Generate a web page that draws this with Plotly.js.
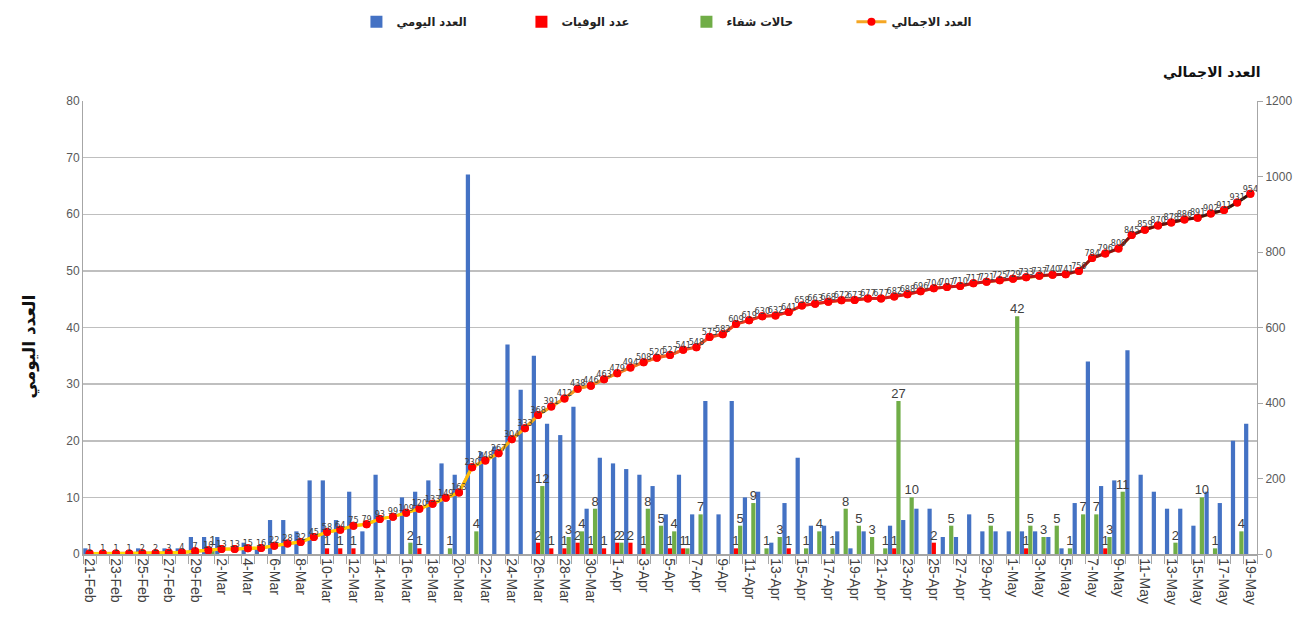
<!DOCTYPE html>
<html>
<head>
<meta charset="utf-8">
<script src="https://cdn.plot.ly/plotly-3.0.1.min.js"></script>
<style>html,body{margin:0;padding:0;background:#fff;}#chart{width:1299px;height:643px;}</style>
</head>
<body>
<div id="chart"></div>
<script>
const dates = [
 '21-Feb','22-Feb','23-Feb','24-Feb','25-Feb','26-Feb','27-Feb','28-Feb','29-Feb',
 '1-Mar','2-Mar','3-Mar','4-Mar','5-Mar','6-Mar','7-Mar','8-Mar','9-Mar','10-Mar',
 '11-Mar','12-Mar','13-Mar','14-Mar','15-Mar','16-Mar','17-Mar','18-Mar','19-Mar','20-Mar',
 '21-Mar','22-Mar','23-Mar','24-Mar','25-Mar','26-Mar','27-Mar','28-Mar','29-Mar','30-Mar','31-Mar',
 '1-Apr','2-Apr','3-Apr','4-Apr','5-Apr','6-Apr','7-Apr','8-Apr','9-Apr','10-Apr',
 '11-Apr','12-Apr','13-Apr','14-Apr','15-Apr','16-Apr','17-Apr','18-Apr','19-Apr','20-Apr',
 '21-Apr','22-Apr','23-Apr','24-Apr','25-Apr','26-Apr','27-Apr','28-Apr','29-Apr','30-Apr',
 '1-May','2-May','3-May','4-May','5-May','6-May','7-May','8-May','9-May','10-May',
 '11-May','12-May','13-May','14-May','15-May','16-May','17-May','18-May','19-May'
];
// العدد اليومي
const dailyCases = [
 1,0,0,0,1,0,1,1,3,
 3,3,0,2,1,6,6,4,13,13,6,11,4,14,6,10,11,13,16,14,67,18,19,37,29,35,23,21,26,8,17,
 16,15,14,12,7,14,7,27,7,27,10,11,2,9,17,5,5,4,1,4,0,5,6,8,8,3,3,7,4,4,
 4,4,4,3,1,9,34,12,13,36,14,11,8,8,5,11,9,20,23
];
// عدد الوفيات
const deaths = [
 0,0,0,0,0,0,0,0,0,
 0,0,0,0,0,0,0,0,0,1,1,1,0,0,0,0,1,0,0,0,0,0,0,0,0,2,1,1,2,1,1,
 2,2,1,0,1,1,0,0,0,1,0,0,0,1,0,0,0,0,0,0,0,1,0,0,2,0,0,0,0,0,
 0,1,0,0,0,0,0,1,0,0,0,0,0,0,0,0,0,0,0
];
// حالات شفاء
const recovered = [
 0,0,0,0,0,0,0,0,0,
 1,0,0,0,0,0,0,0,0,0,0,0,0,0,0,2,0,0,1,0,4,0,0,0,0,12,0,3,4,8,0,
 2,0,8,5,4,1,7,0,0,5,9,1,3,0,1,4,1,8,5,3,1,27,10,0,0,5,0,0,5,0,
 42,5,3,5,1,7,7,3,11,0,0,0,2,0,10,1,0,4,0
];
// العدد الاجمالي
const cumulative = [
 1,1,1,1,2,2,3,4,7,
 10,13,13,15,16,22,28,32,45,58,64,75,79,93,99,109,120,133,149,163,230,248,267,304,333,368,391,412,438,446,463,
 479,494,508,520,527,541,548,575,582,609,619,630,632,641,658,663,668,672,673,677,677,682,688,696,704,707,710,717,721,725,
 729,733,737,740,741,750,784,796,809,845,859,870,878,886,891,902,911,931,954
];
const leftTicks = [0,10,20,30,40,50,60,70,80];
const rightTicks = [0,200,400,600,800,1000,1200];

const lbl = v => v ? String(v) : '';
const arabicFont = 'DejaVu Sans, Noto Sans, sans-serif';
const numFont = 'Liberation Sans, Arial, sans-serif';
const narrow = 'Liberation Sans Narrow, DejaVu Sans Condensed, Liberation Sans, sans-serif';

const traces = [];
traces.push({
  type:'bar', name:'العدد اليومي', x:dates, y:dailyCases, yaxis:'y',
  marker:{color:'#4472C4'}
});
traces.push({
  type:'bar', name:'عدد الوفيات', x:dates, y:deaths, yaxis:'y',
  marker:{color:'#FF0000'},
  text:deaths.map(lbl), textposition:'outside', constraintext:'none', cliponaxis:false,
  textfont:{family:numFont, size:13, color:'#404040'}
});
traces.push({
  type:'bar', name:'حالات شفاء', x:dates, y:recovered, yaxis:'y',
  marker:{color:'#70AD47'},
  text:recovered.map(lbl), textposition:'outside', constraintext:'none', cliponaxis:false,
  textfont:{family:numFont, size:13, color:'#404040'}
});
// legend entry + base line
traces.push({
  type:'scatter', mode:'lines+markers', name:'العدد الاجمالي', x:dates, y:cumulative, yaxis:'y2',
  line:{color:'#F5A623', width:3}, marker:{color:'#FF0000', size:8}
});
// gradient line segments
const stops = [
  [0.00,[255,224,0]],[0.30,[255,196,0]],[0.42,[245,150,35]],[0.52,[240,80,42]],
  [0.60,[232,33,29]],[0.78,[192,21,26]],[0.90,[128,16,16]],[1.00,[48,16,16]]
];
function colorAt(t){
  for(let k=0;k<stops.length-1;k++){
    const a=stops[k], b=stops[k+1];
    if(t<=b[0]){
      const f=(t-a[0])/(b[0]-a[0]);
      const c=a[1].map((v,j)=>Math.round(v+(b[1][j]-v)*f));
      return 'rgb('+c.join(',')+')';
    }
  }
  return 'rgb(48,16,16)';
}
const n = dates.length;
for(let i=0;i<n-1;i++){
  traces.push({
    type:'scatter', mode:'lines', x:dates.slice(i,i+2), y:cumulative.slice(i,i+2), yaxis:'y2',
    line:{color:colorAt((i+0.5)/(n-1)), width:3}, showlegend:false, hoverinfo:'skip'
  });
}
traces.push({
  type:'scatter', mode:'markers', x:dates, y:cumulative, yaxis:'y2',
  marker:{color:'#FF0000', size:8}, showlegend:false
});
traces.push({
  type:'scatter', mode:'text', x:dates, y:cumulative, yaxis:'y2',
  text:cumulative.map(String), textposition:'top center', cliponaxis:false,
  textfont:{family:narrow, size:9, color:'#404040'}, showlegend:false, hoverinfo:'skip'
});

const layout = {
  width:1299, height:643,
  margin:{l:83, r:42, t:101, b:89, autoexpand:false},
  paper_bgcolor:'#ffffff', plot_bgcolor:'#ffffff',
  barmode:'group', bargap:0.04, bargroupgap:0,
  showlegend:true,
  legend:{orientation:'h', x:0.514, xanchor:'center', y:1.175, yanchor:'middle',
    font:{family:arabicFont, size:11.5, color:'#222', weight:'bold'},
    entrywidth:120, bgcolor:'rgba(0,0,0,0)', traceorder:'normal'},
  xaxis:{
    type:'category', tickmode:'array', tickvals:dates,
    ticktext:dates.map((d,i)=> i%2===0 ? d : ''),
    tickangle:90, tickson:'boundaries', ticks:'outside', ticklen:8, tickcolor:'#A6A6A6',
    tickfont:{family:numFont, size:14, color:'#404040'},
    showline:true, linecolor:'#A6A6A6', linewidth:1.5, showgrid:false, automargin:false,
    range:[-0.5, dates.length-0.5]
  },
  yaxis:{
    range:[0,80], tickmode:'array', tickvals:leftTicks,
    showgrid:true, gridcolor:'#BFBFBF', gridwidth:1.5, zeroline:false,
    showline:true, linecolor:'#A6A6A6', linewidth:1,
    tickfont:{family:numFont, size:12, color:'#595959'}, ticks:'', automargin:false
  },
  yaxis2:{
    range:[0,1200], overlaying:'y', side:'right', tickmode:'array', tickvals:rightTicks,
    showgrid:false, zeroline:false, showline:true, linecolor:'#A6A6A6', linewidth:1,
    ticks:'outside', ticklen:5, tickcolor:'#A6A6A6',
    tickfont:{family:numFont, size:12, color:'#595959'}, automargin:false
  },
  annotations:[
    {text:'العدد الاجمالي', xref:'paper', yref:'paper', x:1.004, xanchor:'right', y:1.063, yanchor:'middle',
     showarrow:false, font:{family:arabicFont, size:14, color:'#111', weight:'bold'}},
    {text:'العدد اليومي', xref:'paper', yref:'paper', x:-0.0455, xanchor:'center', y:0.457, yanchor:'middle',
     textangle:-90, showarrow:false, font:{family:arabicFont, size:17, color:'#111', weight:'bold'}}
  ]
};
Plotly.newPlot('chart', traces, layout, {displayModeBar:false, staticPlot:true});
</script>
</body>
</html>
